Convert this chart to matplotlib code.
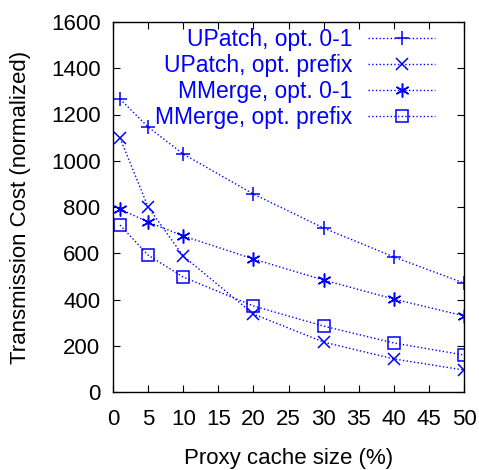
import matplotlib
matplotlib.use("Agg")
import matplotlib.pyplot as plt

plt.rcParams['font.family'] = ['Liberation Sans', 'DejaVu Sans']

# cache size (%) and normalized transmission cost
cache = [1, 5, 10, 20, 30, 40, 50]
upatch_01 = [1267, 1146, 1029, 856, 709, 584, 471]
upatch_prefix = [1098, 800, 588, 337, 216, 143, 95]
mmerge_01 = [791, 735, 675, 575, 484, 402, 329]
mmerge_prefix = [722, 592, 497, 372, 285, 212, 160]

labels = ["UPatch, opt. 0-1", "UPatch, opt. prefix",
          "MMerge, opt. 0-1", "MMerge, opt. prefix"]
xticks = [0, 5, 10, 15, 20, 25, 30, 35, 40, 45, 50]
yticks = [0, 200, 400, 600, 800, 1000, 1200, 1400, 1600]

blue = "#0000ff"

fig = plt.figure(figsize=(4.79, 4.70), dpi=100)
ax = fig.add_axes([113/479, 1-392/470, 351/479, 370/470])

ax.plot(cache, upatch_01, ls=":", lw=1, color=blue, marker="+", ms=10,
        mew=1.1, label=labels[0])
ax.plot(cache, upatch_prefix, ls=":", lw=1, color=blue, marker="x", ms=9,
        mew=1.1, label=labels[1])
ax.plot(cache, mmerge_01, ls=":", lw=1, color=blue, marker=(6, 2, 0), ms=10,
        mew=1.1, label=labels[2])
ax.plot(cache, mmerge_prefix, ls=":", lw=1, color=blue, marker="s", ms=8.5,
        mew=1.1, mfc="none", label=labels[3])

ax.set_xlim(0, 50)
ax.set_ylim(0, 1600)
ax.set_xticks(xticks)
ax.set_yticks(yticks)
ax.tick_params(direction="in", top=True, right=True, labelsize=16,
               length=5, pad=9)
ax.tick_params(axis="x", pad=12)
for s in ax.spines.values():
    s.set_linewidth(1)

ax.set_xlabel("Proxy cache size (%)", fontsize=16)
ax.xaxis.set_label_coords(0.5, -0.152)
ax.set_ylabel("Transmission Cost (normalized)", fontsize=16)
ax.yaxis.set_label_coords(-0.234, 0.5)

leg = ax.legend(loc="upper right", frameon=False, markerfirst=False,
                fontsize=16.5, handlelength=2.9, handletextpad=0.7,
                labelspacing=0.12, borderpad=0, borderaxespad=0,
                bbox_to_anchor=(0.917, 0.983))
for t in leg.get_texts():
    t.set_color(blue)

fig.savefig("out.png", dpi=100)
